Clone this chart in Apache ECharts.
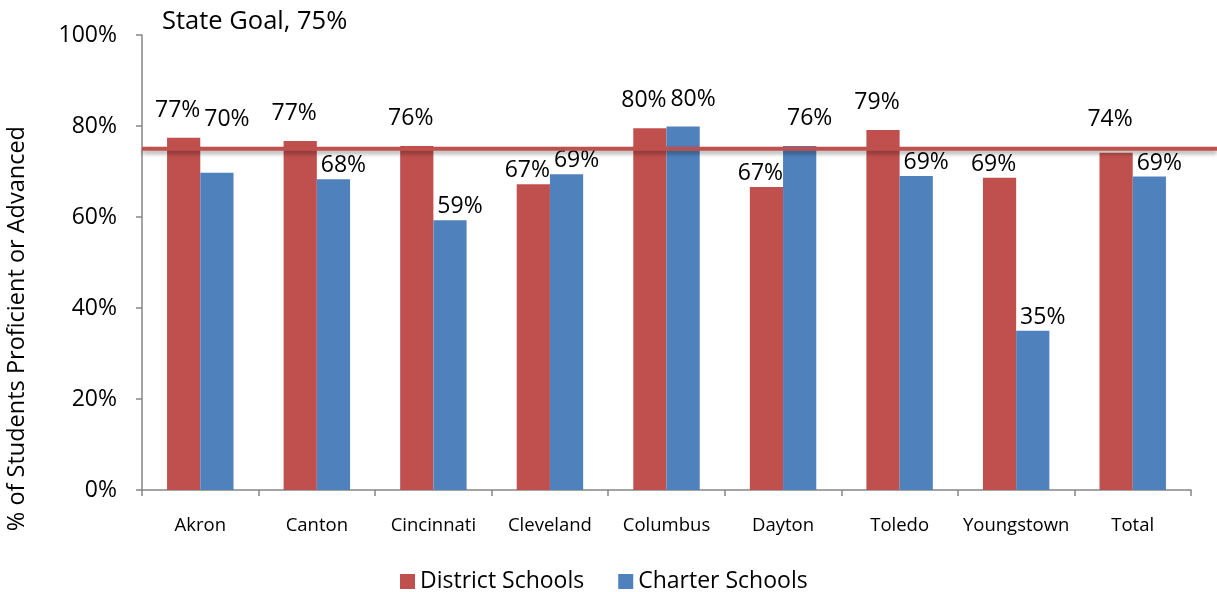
<!DOCTYPE html>
<html>
<head>
<meta charset="utf-8">
<script src="https://cdn.jsdelivr.net/npm/echarts@6/dist/echarts.min.js"></script>
<style>
  html, body { margin: 0; padding: 0; background: #fff; }
  #chart { width: 1217px; height: 592px; }
</style>
</head>
<body>
<div id="chart"></div>
<script>
// Values (% proficient or advanced).
const cities = ['Akron', 'Canton', 'Cincinnati', 'Cleveland', 'Columbus', 'Dayton', 'Toledo', 'Youngstown', 'Total'];
const districtSchools = [77.4, 76.7, 75.6, 67.2, 79.5, 66.6, 79.1, 68.6, 74.1];
const charterSchools = [69.7, 68.3, 59.3, 69.4, 79.9, 75.6, 69.0, 35.0, 68.9];
const stateGoal = 75;
const yTicks = [0, 20, 40, 60, 80, 100];

const FONT = '"Open Sans", "Noto Sans", sans-serif';
const RED = '#c0504d';
const BLUE = '#4f81bd';
const AXIS = '#868686';

const GRID_TOP = 35;
const GRID_BOTTOM = 102;
const PX_PER_PCT = (592 - GRID_TOP - GRID_BOTTOM) / 100;

// Labels whose bars reach up near the goal line get lifted clear above it.
function labelFor(value, dx) {
  const near = value > stateGoal - 5.4;
  return {
    show: true,
    position: 'top',
    distance: near ? Math.max(16, (stateGoal - value) * PX_PER_PCT + 18) : 2,
    offset: [dx, 0],
    color: '#000',
    fontSize: 23,
    fontFamily: FONT,
    formatter: (p) => Math.round(p.value) + '%',
  };
}

const chart = echarts.init(document.getElementById('chart'));

chart.setOption({
  animation: false,
  textStyle: { fontFamily: FONT },
  title: {
    text: 'State Goal, 75%',
    left: 157,
    top: 4,
    textStyle: { fontSize: 25.5, fontWeight: 'normal', color: '#000', fontFamily: FONT },
  },
  legend: {
    top: 565,
    left: 395,
    itemWidth: 15,
    itemHeight: 15,
    itemGap: 34,
    icon: 'rect',
    data: ['District Schools', 'Charter Schools'],
    textStyle: { fontSize: 23, color: '#000', fontFamily: FONT },
  },
  graphic: [{
    type: 'text',
    left: 5,
    top: 126,
    rotation: Math.PI / 2,
    style: {
      text: '% of Students Proficient or Advanced',
      fontSize: 23.5,
      fontFamily: FONT,
      fill: '#000',
    },
  }],
  grid: [
    { left: 142, right: 26, top: GRID_TOP, bottom: GRID_BOTTOM },
    { left: 142, right: 0, top: GRID_TOP, bottom: GRID_BOTTOM },
  ],
  xAxis: [
    {
      type: 'category',
      gridIndex: 0,
      data: cities,
      axisLine: { lineStyle: { color: AXIS, width: 1.5 } },
      axisTick: { show: true, length: 6, lineStyle: { color: AXIS, width: 1.5 } },
      axisLabel: { color: '#000', fontSize: 18.5, margin: 26, interval: 0, fontFamily: FONT },
    },
    { type: 'value', gridIndex: 1, min: 0, max: 1, show: false },
  ],
  yAxis: [
    {
      type: 'value',
      gridIndex: 0,
      min: yTicks[0],
      max: yTicks[yTicks.length - 1],
      interval: 20,
      axisLine: { show: true, lineStyle: { color: AXIS, width: 1.5 } },
      axisTick: { show: true, length: 6, lineStyle: { color: AXIS, width: 1.5 } },
      splitLine: { show: false },
      axisLabel: { color: '#000', fontSize: 23, margin: 25, formatter: '{value}%', fontFamily: FONT },
    },
    { type: 'value', gridIndex: 1, min: 0, max: 100, show: false },
  ],
  series: [
    {
      name: 'District Schools',
      type: 'bar',
      xAxisIndex: 0,
      yAxisIndex: 0,
      barGap: '0%',
      barCategoryGap: '43%',
      itemStyle: { color: RED },
      data: districtSchools.map((v) => ({ value: v, label: labelFor(v, -6) })),
    },
    {
      name: 'Charter Schools',
      type: 'bar',
      xAxisIndex: 0,
      yAxisIndex: 0,
      itemStyle: { color: BLUE },
      data: charterSchools.map((v) => ({ value: v, label: labelFor(v, 10) })),
    },
    {
      name: 'State Goal',
      type: 'line',
      xAxisIndex: 1,
      yAxisIndex: 1,
      silent: true,
      symbol: 'none',
      z: 5,
      lineStyle: {
        color: RED,
        width: 4,
        shadowColor: 'rgba(0,0,0,0.35)',
        shadowBlur: 4,
        shadowOffsetY: 3,
      },
      data: [[0, stateGoal], [1, stateGoal]],
    },
  ],
});
</script>
</body>
</html>
